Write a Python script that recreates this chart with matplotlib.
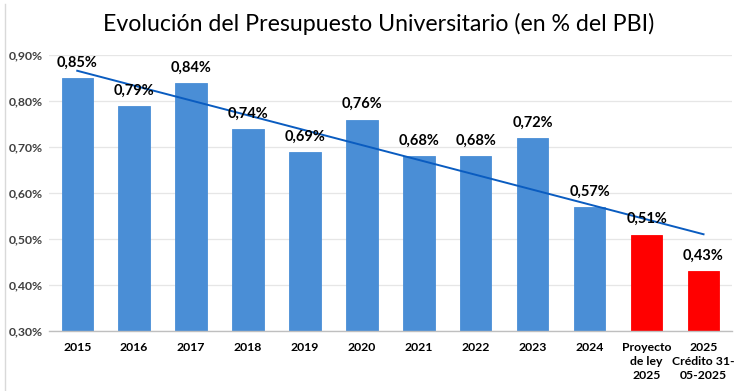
import numpy as np
import matplotlib.pyplot as plt
from matplotlib.lines import Line2D
from matplotlib.ticker import FuncFormatter

categories = ["2015", "2016", "2017", "2018", "2019", "2020", "2021", "2022",
              "2023", "2024", "Proyecto\nde ley\n2025", "2025\nCrédito 31-\n05-2025"]
values = [0.85, 0.79, 0.84, 0.74, 0.69, 0.76, 0.68, 0.68, 0.72, 0.57, 0.51, 0.43]
highlight = [False] * 10 + [True, True]

BLUE = "#4A8ED6"
RED = "#FF0000"

plt.rcParams["font.family"] = ["Lato", "DejaVu Sans"]

fig = plt.figure(figsize=(7.5, 3.91), dpi=100)
ax = fig.add_axes([0.065, 0.153, 0.911, 0.706])

x = np.arange(len(values))
colors = [RED if h else BLUE for h in highlight]
ax.bar(x, values, width=0.55, color=colors, edgecolor=colors, linewidth=0.6, zorder=2)

# linear trend over all values
slope, intercept = np.polyfit(x, values, 1)
ax.plot(x, intercept + slope * x, color="#0A5CC0", linewidth=1.4, zorder=4)

for xi, v in zip(x, values):
    ax.annotate(f"{v:.2f}%".replace(".", ","), (xi, v), xytext=(0, 6),
                textcoords="offset points", ha="center", va="bottom",
                fontsize=10.5, fontweight="bold", color="black", zorder=5)

ax.set_ylim(0.30, 0.90)
ax.set_xlim(-0.5, len(values) - 0.5)
ax.set_yticks(np.arange(0.30, 0.901, 0.10))
ax.yaxis.set_major_formatter(FuncFormatter(lambda v, _: f"{v:.2f}%".replace(".", ",")))
ax.set_xticks(x)
ax.set_xticklabels(categories, fontsize=8.8, fontweight="bold", linespacing=1.3)
for lbl in ax.get_yticklabels():
    lbl.set_fontsize(8.8)
    lbl.set_fontweight("bold")
    lbl.set_color("#404040")

ax.grid(axis="y", color="#E6E6E6", linewidth=0.9, zorder=0)
ax.set_axisbelow(True)
for s in ["top", "right", "left"]:
    ax.spines[s].set_visible(False)
ax.spines["bottom"].set_color("#BFBFBF")
ax.spines["bottom"].set_linewidth(1.0)
ax.tick_params(axis="both", length=0)
ax.tick_params(axis="x", pad=8)
ax.tick_params(axis="y", pad=29)
for lbl in ax.get_yticklabels():
    lbl.set_horizontalalignment("left")

fig.text(0.505, 0.94, "Evolución del Presupuesto Universitario (en % del PBI)",
         ha="center", va="center", fontsize=16.7, color="black")

# thin frame line on the left edge
fig.add_artist(Line2D([0.007, 0.007], [0, 0.99], color="#D9D9D9", linewidth=1.0))

fig.savefig("out.png", dpi=100)
